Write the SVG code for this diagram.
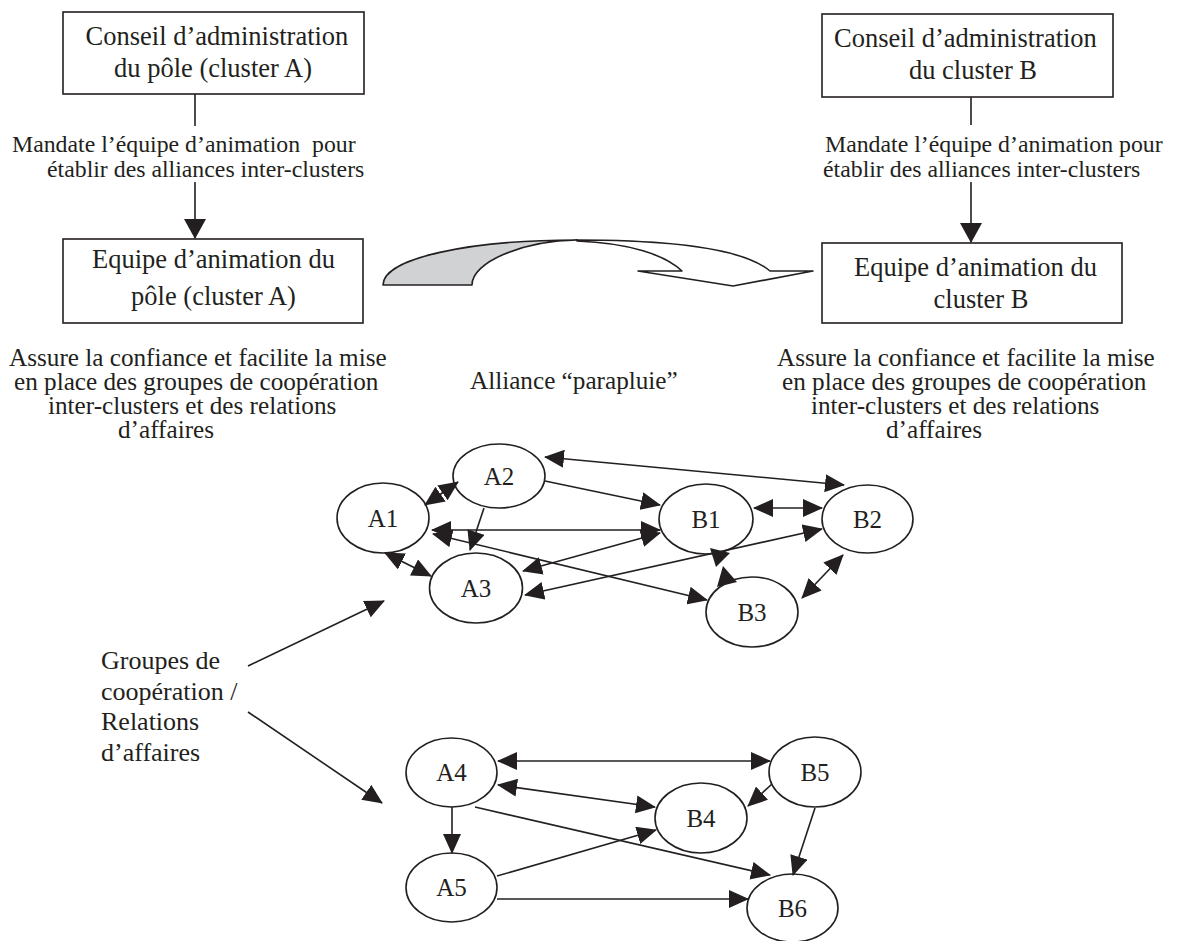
<svg xmlns="http://www.w3.org/2000/svg" width="1189" height="941" viewBox="0 0 1189 941">
<style>
text{font-family:"Liberation Serif","Times New Roman",serif;fill:#231f20}
.box{fill:#fff;stroke:#231f20;stroke-width:1.6}
.bt{font-size:26.5px;text-anchor:middle}
.lb{font-size:23.8px}
.ds{font-size:25.2px}
.gr{font-size:26px}
.nd{fill:#fff;stroke:#231f20;stroke-width:1.6}
.nt{font-size:25px;text-anchor:middle}
.ln{stroke:#231f20;stroke-width:1.6;fill:none}
.a2{marker-start:url(#ah);marker-end:url(#ah)}
.a1{marker-end:url(#ah)}
.big{marker-end:url(#bh)}
.hd{fill:#231f20}
</style>
<defs>
<marker id="ah" viewBox="0 0 20 18" refX="19" refY="9" markerWidth="20" markerHeight="18" markerUnits="userSpaceOnUse" orient="auto-start-reverse"><path d="M0,0 L20,9 L0,18 Z" fill="#231f20"/></marker>
<marker id="bh" viewBox="0 0 20 22" refX="19" refY="11" markerWidth="20" markerHeight="22" markerUnits="userSpaceOnUse" orient="auto"><path d="M0,0 L20,11 L0,22 Z" fill="#231f20"/></marker>
</defs>
<rect width="1189" height="941" fill="#fff"/>

<g id="conseil-a">
<rect class="box" x="63" y="12" width="301" height="82"/>
<text class="bt" x="217" y="45">Conseil d’administration</text>
<text class="bt" x="213" y="77">du pôle (cluster A)</text>
</g>
<g id="equipe-a">
<rect class="box" x="63" y="239" width="300" height="84"/>
<text class="bt" x="213.5" y="268">Equipe d’animation du</text>
<text class="bt" x="213.5" y="305">pôle (cluster A)</text>
</g>
<g id="conseil-b">
<rect class="box" x="822" y="14" width="291" height="83"/>
<text class="bt" x="965.5" y="47">Conseil d’administration</text>
<text class="bt" x="973" y="79">du cluster B</text>
</g>
<g id="equipe-b">
<rect class="box" x="822" y="243" width="300" height="80"/>
<text class="bt" x="975.5" y="276">Equipe d’animation du</text>
<text class="bt" x="981" y="308">cluster B</text>
</g>

<g id="label-mandate-a">
<text class="lb" x="12" y="152">Mandate l’équipe d’animation &#160;pour</text>
<text class="lb" x="47" y="177">établir des alliances inter-clusters</text>
</g>
<g id="label-mandate-b">
<text class="lb" x="825" y="152">Mandate l’équipe d’animation pour</text>
<text class="lb" x="823" y="177">établir des alliances inter-clusters</text>
</g>

<g id="desc-a">
<text class="ds" x="9" y="366">Assure la confiance et facilite la mise</text>
<text class="ds" x="14" y="390">en place des groupes de coopération</text>
<text class="ds" x="48" y="414">inter-clusters et des relations</text>
<text class="ds" x="118" y="438">d’affaires</text>
</g>
<g id="desc-b">
<text class="ds" x="777" y="366">Assure la confiance et facilite la mise</text>
<text class="ds" x="782" y="390">en place des groupes de coopération</text>
<text class="ds" x="811" y="414">inter-clusters et des relations</text>
<text class="ds" x="886" y="438">d’affaires</text>
</g>
<g id="alliance-label">
<text class="ds" x="470" y="389">Alliance “parapluie”</text>
</g>
<g id="groupes-label">
<text class="gr" x="101" y="669">Groupes de</text>
<text class="gr" x="101" y="700">coopération /</text>
<text class="gr" x="101" y="730">Relations</text>
<text class="gr" x="101" y="761">d’affaires</text>
</g>

<g id="curved-arrow">
<path d="M383,285 C383,258 470,240 577,240 C522,241 472,262 472,285 Z" fill="#d1d2d4" stroke="#231f20" stroke-width="1.6" stroke-linejoin="round"/>
<path d="M577,240 C680,240 745,250 770,271 L813,271 L733,286 L638,271 L682,271 C665,255 630,243 577,241 Z" fill="#fff" stroke="#231f20" stroke-width="1.6" stroke-linejoin="round"/>
</g>

<g id="A1"><ellipse class="nd" cx="383" cy="518" rx="46" ry="35"/><text class="nt" x="383" y="527">A1</text></g>
<g id="A2"><ellipse class="nd" cx="499" cy="476" rx="46" ry="32"/><text class="nt" x="499" y="485">A2</text></g>
<g id="A3"><ellipse class="nd" cx="476" cy="588" rx="46.5" ry="35"/><text class="nt" x="476" y="597">A3</text></g>
<g id="B1"><ellipse class="nd" cx="706" cy="519" rx="47" ry="35"/><text class="nt" x="706" y="528">B1</text></g>
<g id="B2"><ellipse class="nd" cx="867.5" cy="519" rx="45.5" ry="34"/><text class="nt" x="867.5" y="528">B2</text></g>
<g id="B3"><ellipse class="nd" cx="752" cy="612" rx="46" ry="35"/><text class="nt" x="752" y="621">B3</text></g>
<g id="A4"><ellipse class="nd" cx="451.5" cy="772.5" rx="45.5" ry="34.5"/><text class="nt" x="451.5" y="781">A4</text></g>
<g id="A5"><ellipse class="nd" cx="451.5" cy="887.5" rx="45.5" ry="34.5"/><text class="nt" x="451.5" y="896">A5</text></g>
<g id="B4"><ellipse class="nd" cx="701" cy="818" rx="46" ry="35"/><text class="nt" x="701" y="827">B4</text></g>
<g id="B5"><ellipse class="nd" cx="815" cy="772" rx="46" ry="35"/><text class="nt" x="815" y="781">B5</text></g>
<g id="B6"><ellipse class="nd" cx="792.5" cy="908" rx="45.5" ry="34"/><text class="nt" x="792.5" y="917">B6</text></g>

<g id="connectors">
<line class="ln" x1="195" y1="94" x2="195" y2="126"/>
<line class="ln big" x1="195" y1="182" x2="195" y2="238"/>
<line class="ln" x1="971" y1="97" x2="971" y2="125"/>
<line class="ln big" x1="971" y1="182" x2="971" y2="242"/>

<line class="ln a2" x1="545" y1="457" x2="844" y2="485"/>
<line class="ln a2" x1="425" y1="505" x2="458" y2="482"/>
<line class="ln a1" x1="545" y1="481" x2="660" y2="505"/>
<line class="ln a1" x1="484" y1="508" x2="470" y2="550"/>
<line class="ln a2" x1="432" y1="530" x2="660" y2="530"/>
<line class="ln a2" x1="433" y1="534" x2="707" y2="600"/>
<line class="ln a2" x1="385" y1="553" x2="431" y2="576"/>
<line class="ln a2" x1="523" y1="571" x2="660" y2="533"/>
<line class="ln a2" x1="525" y1="595" x2="822" y2="529"/>
<line class="ln a2" x1="754" y1="508" x2="822" y2="508"/>
<polygon class="hd" points="710,548 730,553 716,567"/>
<polygon class="hd" points="723,566 717,587 737,582"/>
<line class="ln a2" x1="843" y1="555" x2="802" y2="598"/>

<line class="ln a2" x1="498" y1="761" x2="770" y2="761"/>
<line class="ln a2" x1="498" y1="785" x2="655" y2="807"/>
<line class="ln a1" x1="452" y1="807" x2="452" y2="853"/>
<line class="ln a1" x1="475" y1="807" x2="770" y2="875"/>
<line class="ln a1" x1="497" y1="876" x2="656" y2="830"/>
<line class="ln a1" x1="497" y1="899" x2="748" y2="899"/>
<line class="ln a1" x1="772" y1="784" x2="748" y2="806"/>
<line class="ln a1" x1="815" y1="808" x2="793" y2="875"/>

<line class="ln a1" x1="248" y1="666" x2="384" y2="601"/>
<line class="ln a1" x1="248" y1="712" x2="382" y2="803"/>
</g>
</svg>
